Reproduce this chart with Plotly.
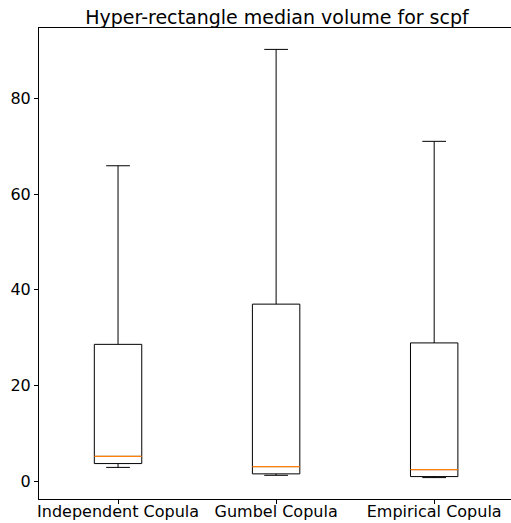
import plotly.graph_objects as go

# Box statistics per copula model
categories = ["Independent Copula", "Gumbel Copula", "Empirical Copula"]
lower_whisker = [2.9, 1.25, 0.77]
q1 = [3.7, 1.55, 0.98]
median = [5.2, 3.07, 2.44]
q3 = [28.6, 37.0, 28.9]
upper_whisker = [65.9, 90.2, 71.0]

positions = [1, 2, 3]
box_width = 0.3

fig = go.Figure()

fig.add_trace(go.Box(
    x=positions,
    q1=q1,
    median=median,
    q3=q3,
    lowerfence=lower_whisker,
    upperfence=upper_whisker,
    width=box_width,
    whiskerwidth=0.5,
    fillcolor="rgba(0,0,0,0)",
    line=dict(color="black", width=1),
    boxpoints=False,
    showlegend=False,
    hoverinfo="skip",
))

# Orange median lines drawn over the boxes
mx, my = [], []
for p, m in zip(positions, median):
    mx += [p - box_width / 2, p + box_width / 2, None]
    my += [m, m, None]
fig.add_trace(go.Scatter(
    x=mx, y=my, mode="lines",
    line=dict(color="#ff7f0e", width=1.2),
    showlegend=False, hoverinfo="skip",
))

fig.update_layout(
    width=511, height=523,
    margin=dict(l=39, r=0, t=28, b=24),
    paper_bgcolor="white", plot_bgcolor="white",
    font=dict(family="DejaVu Sans", size=16, color="black"),
    title=dict(
        text="Hyper-rectangle median volume for scpf",
        font=dict(size=19, color="black"),
        x=277 / 511, xanchor="center", y=1 - 17 / 523, yanchor="middle",
        xref="container",
    ),
)
fig.update_xaxes(
    range=[0.5, 3.486], automargin=False,
    tickmode="array", tickvals=positions, ticktext=categories,
    showgrid=False, zeroline=False,
    showline=True, linecolor="black", linewidth=1, mirror=True,
    ticks="outside", ticklen=4, tickcolor="black",
    ticklabelstandoff=-6,
    tickfont=dict(size=16),
)
fig.update_yaxes(
    range=[-3.7, 94.67], automargin=False,
    tickvals=[0, 20, 40, 60, 80],
    showgrid=False, zeroline=False,
    showline=True, linecolor="black", linewidth=1, mirror=False,
    ticks="outside", ticklen=4, tickcolor="black",
    tickfont=dict(size=16),
)

fig.write_html("out.html")
